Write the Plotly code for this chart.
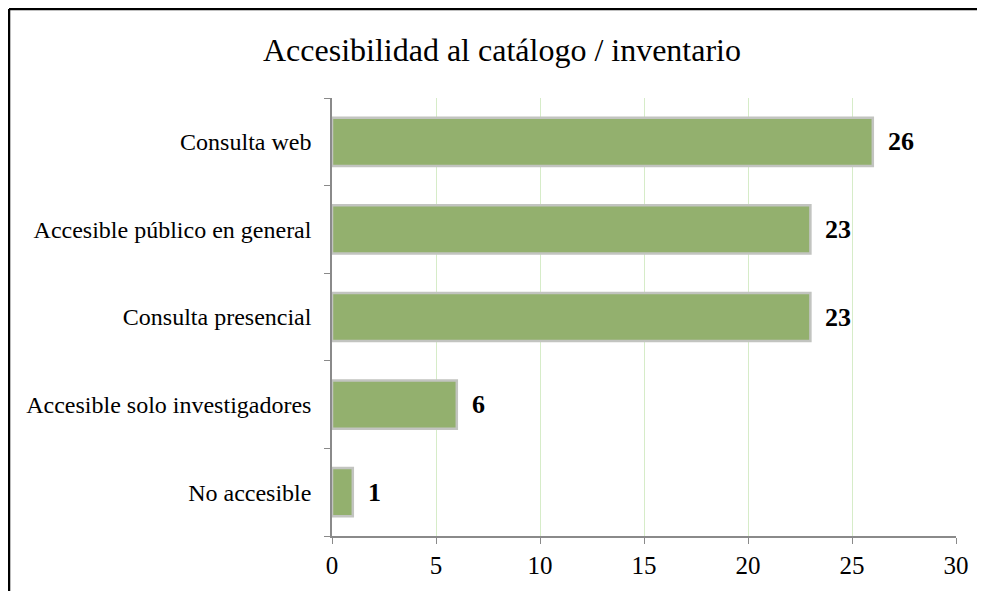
import plotly.graph_objects as go

categories = ["No accesible", "Accesible solo investigadores", "Consulta presencial",
              "Accesible público en general", "Consulta web"]
values = [1, 6, 23, 23, 26]
x_ticks = [0, 5, 10, 15, 20, 25, 30]
title_text = "Accesibilidad al catálogo / inventario"

serif = "Liberation Serif, Times New Roman, serif"

fig = go.Figure()
fig.add_trace(go.Bar(
    y=categories, x=values, orientation="h",
    width=0.55,
    marker=dict(color="#93b06e", line=dict(color="#c2c4c0", width=2.5)),
    hoverinfo="x+y",
))

for c, v in zip(categories, values):
    fig.add_annotation(x=v, y=c, text=f"<b>{v}</b>", showarrow=False,
                       xanchor="left", yanchor="middle", xshift=13,
                       font=dict(family=serif, size=26, color="black"))

fig.update_layout(
    width=985, height=591,
    margin=dict(l=324, r=37, t=90, b=63, autoexpand=False),
    paper_bgcolor="white", plot_bgcolor="white",
    showlegend=False,
    title=dict(text=title_text, x=0.5015, xanchor="center", y=0.929, yanchor="middle",
               font=dict(family=serif, size=32, color="black")),
    font=dict(family=serif, color="black"),
    bargap=0.45,
)
fig.update_xaxes(
    range=[0, 30], tickvals=x_ticks, ticktext=[str(t) for t in x_ticks],
    showgrid=True, gridcolor="#d6ecc8", gridwidth=1,
    showline=True, linecolor="#8a8a8a", linewidth=1.5,
    ticks="outside", ticklen=6, tickcolor="#8a8a8a",
    tickfont=dict(family=serif, size=25, color="black"),
    zeroline=False, fixedrange=True,
)
fig.update_yaxes(
    categoryorder="array", categoryarray=categories,
    showline=True, linecolor="#8a8a8a", linewidth=1.5,
    ticks="outside", ticklen=6, tickcolor="#8a8a8a", tickson="boundaries",
    tickfont=dict(family=serif, size=24, color="black"),
    ticklabelstandoff=14,
    showgrid=False, fixedrange=True,
)

# outer frame (left and top edges)
fig.add_shape(type="line", xref="paper", yref="paper",
              x0=-0.5176, x1=-0.5176, y0=1.2032, y1=-0.2,
              line=dict(color="black", width=2.5))
fig.add_shape(type="line", xref="paper", yref="paper",
              x0=-0.5176, x1=1.08, y0=1.2032, y1=1.2032,
              line=dict(color="black", width=2.5))

fig.write_html("out.html")
